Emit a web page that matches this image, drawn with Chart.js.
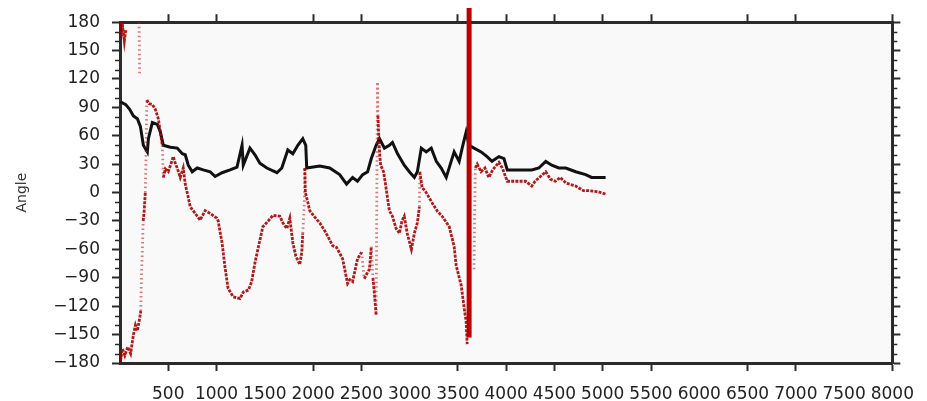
<!DOCTYPE html>
<html>
<head>
<meta charset="utf-8">
<script src="https://cdn.jsdelivr.net/npm/chart.js@4.4.1/dist/chart.umd.min.js"></script>
<style>
    body { margin: 0; background: #fff; }
    #wrap { width: 927px; height: 401px; }
</style>
</head>
<body>
<div id="wrap"><canvas id="angleChart"></canvas></div>
<script>
// Data (x = position, y = angle in degrees)
const blackPos = [5, 60, 100, 139, 180, 211, 242, 283, 294, 335, 387, 418, 449, 521, 593, 645, 676, 707, 748, 800,
    862, 934, 985, 1057, 1140, 1212, 1264, 1277, 1346, 1398, 1449, 1521, 1625, 1676, 1738, 1790, 1842, 1893, 1924, 1934,
    2069, 2172, 2275, 2347, 2409, 2460, 2514, 2565, 2603, 2653, 2687, 2739, 2790, 2822, 2875, 2944, 2997, 3049, 3080, 3121,
    3172, 3224, 3276, 3327, 3379, 3430, 3461, 3513, 3544, 3585, 3616, 3667, 3740, 3802, 3853, 3925, 3977, 4011, 4131, 4265,
    4338, 4410, 4472, 4545, 4617, 4720, 4823, 4885, 5030];
const blackAngle = [96, 93, 88, 81, 78, 70, 50, 43, 57, 74, 72, 64, 50, 48, 47, 41, 40, 29, 22, 26,
    24, 22, 17, 21, 24, 27, 50, 29, 47, 40, 31, 26, 21, 26, 45, 41, 50, 57, 50, 26,
    28, 26, 19, 9, 16, 12, 19, 22, 36, 50, 57, 47, 50, 53, 41, 29, 22, 16, 22, 47,
    43, 47, 33, 26, 16, 33, 43, 33, 47, 64, 50, 47, 43, 38, 33, 38, 36, 24, 24, 24,
    26, 33, 29, 26, 26, 22, 19, 16, 16];

// red trace, null angle = break (wrap at +/-180)
const redPos = [5, 15, 28, 45, 60, 61,
    198, 203, 204,
    5, 25, 50, 80, 110, 139, 160, 180, 205, 215, 222, 232, 240, 250, 262, 270, 278, 300, 335, 366,
    397, 418, 438, 449, 470, 500, 552, 575, 593, 624, 655, 676, 707, 727, 779, 830, 882, 934, 1003, 1017,
    1057, 1088, 1119, 1171, 1243, 1277, 1330, 1364, 1398, 1432, 1480, 1535, 1584, 1656, 1687, 1728, 1759, 1790, 1821, 1862,
    1883, 1893, 1910, 1914, 1920, 1945, 1965, 2010, 2069, 2130, 2203, 2244, 2306, 2357, 2380, 2409, 2460, 2502, 2530, 2560,
    2584, 2603, 2620, 2636, 2653, 2667, 2672, 2680, 2690, 2700, 2730, 2760, 2790, 2822, 2860, 2895, 2920, 2944, 2975, 3018,
    3049, 3080, 3101, 3105, 3130, 3160, 3200, 3240, 3290, 3337, 3410, 3461, 3482, 3534, 3565, 3585, 3596, 3597,
    3667, 3672, 3680, 3700, 3740, 3780, 3820, 3860, 3925, 3960, 4011, 4100, 4200, 4265, 4300, 4410, 4460, 4510, 4560, 4620,
    4720, 4800, 4855, 4950, 5030];
const redAngle = [180, 165, 175, 160, 172, null,
    180, 125, null,
    -178, -165, -172, -163, -170, -150, -140, -146, -132, -125, -90, -60, -30, -20, 0, 40, 98, 94, 93, 88,
    78, 64, 50, 16, 25, 22, 38, 30, 26, 16, 26, 9, -5, -15, -22, -29, -19, -22, -27, -30,
    -53, -79, -101, -110, -112, -105, -103, -94, -74, -58, -36, -30, -24, -25, -32, -38, -27, -53, -67, -76,
    -63, -43, -10, 26, 0, -10, -19, -25, -32, -42, -56, -58, -70, -96, -92, -94, -70, -63, -91, -85,
    -81, -57, -90, -108, -129, 117, 81, 60, 40, 29, 22, 2, -19, -25, -38, -43, -30, -25, -43, -60,
    -43, -32, -15, 22, 5, 2, -5, -12, -20, -25, -36, -57, -77, -98, -122, -136, -160, null,
    -81, -30, 26, 30, 22, 26, 16, 24, 32, 26, 12, 12, 12, 7, 12, 22, 14, 12, 16, 10,
    7, 2, 2, 1, -1.5];

// thick marker line
const markerPos = [3616, 3616];
const markerAngle = [195, -153];

const xTickMarks = [500, 1000, 2000, 2500, 3500, 4000, 4500, 5000, 5500, 6500, 7000, 8000];

const frameColor = '#2b2b2b';
const tickFont = { family: 'DejaVu Sans', size: 17 };

function toPoints(xs, ys) {
    return xs.map((x, i) => ({ x: x, y: ys[i] }));
}

function isSteep(ctx) {
    return Math.abs(ctx.p1.y - ctx.p0.y) > 25 && Math.abs(ctx.p1.x - ctx.p0.x) < 8;
}

// light grey plot background
const plotBackground = {
    id: 'plotBackground',
    beforeDraw(chart) {
        const a = chart.chartArea;
        const c = chart.ctx;
        c.save();
        c.fillStyle = '#f9f9f9';
        c.fillRect(a.left, a.top, a.right - a.left, a.bottom - a.top);
        c.restore();
    }
};

// small ticks every 10 degrees on both side axes
const minorTicks = {
    id: 'minorTicks',
    afterDraw(chart) {
        const c = chart.ctx;
        const y = chart.scales.y;
        const a = chart.chartArea;
        c.save();
        c.strokeStyle = frameColor;
        c.lineWidth = 1.5;
        for (let v = -180; v <= 180; v += 10) {
            if (v % 30 === 0) continue;
            const py = Math.round(y.getPixelForValue(v)) + 0.5;
            c.beginPath();
            c.moveTo(a.left - 5, py);
            c.lineTo(a.left, py);
            c.moveTo(a.right, py);
            c.lineTo(a.right + 5, py);
            c.stroke();
        }
        c.restore();
    }
};

function xTickColor(ctx) {
    return ctx.tick && xTickMarks.includes(ctx.tick.value) ? frameColor : 'rgba(0,0,0,0)';
}

function initAngleChart() {
    const ctx = document.getElementById('angleChart').getContext('2d');

    new Chart(ctx, {
        type: 'line',
        data: {
            datasets: [{
                data: toPoints(markerPos, markerAngle),
                borderColor: '#c00000',
                borderWidth: 5,
                pointRadius: 0,
                clip: false,
                order: 0
            }, {
                data: toPoints(redPos, redAngle),
                borderColor: 'rgba(170, 0, 0, 0.9)',
                borderWidth: 2.8,
                borderDash: [3, 1.2],
                pointRadius: 0,
                spanGaps: false,
                segment: {
                    borderDash: c => isSteep(c) ? [1.5, 3] : undefined,
                    borderColor: c => isSteep(c) ? 'rgba(195, 30, 30, 0.6)' : undefined
                },
                order: 1
            }, {
                data: toPoints(blackPos, blackAngle),
                borderColor: '#111',
                borderWidth: 3,
                pointRadius: 0,
                order: 2
            }]
        },
        options: {
            responsive: true,
            maintainAspectRatio: false,
            animation: false,
            layout: { padding: 0 },
            plugins: {
                legend: { display: false },
                tooltip: { enabled: false }
            },
            scales: {
                x: {
                    type: 'linear',
                    position: 'bottom',
                    min: 0,
                    max: 8000,
                    afterFit: s => { s.height = 38; },
                    border: { color: frameColor, width: 3 },
                    grid: {
                        drawOnChartArea: false,
                        tickLength: 8,
                        tickWidth: 2,
                        tickColor: xTickColor
                    },
                    ticks: {
                        stepSize: 500,
                        autoSkip: false,
                        maxRotation: 0,
                        color: '#222',
                        font: tickFont,
                        padding: 13,
                        callback: v => v === 0 ? '' : v
                    }
                },
                x2: {
                    type: 'linear',
                    position: 'top',
                    min: 0,
                    max: 8000,
                    afterFit: s => { s.height = 14; },
                    border: { color: frameColor, width: 3 },
                    grid: {
                        drawOnChartArea: false,
                        tickLength: 8,
                        tickWidth: 2,
                        tickColor: xTickColor
                    },
                    ticks: { display: false, stepSize: 500 }
                },
                y: {
                    type: 'linear',
                    position: 'left',
                    min: -180,
                    max: 180,
                    afterFit: s => { s.width = 120; },
                    border: { color: frameColor, width: 3 },
                    grid: {
                        drawOnChartArea: false,
                        tickLength: 8,
                        tickWidth: 2,
                        tickColor: frameColor
                    },
                    ticks: {
                        stepSize: 30,
                        autoSkip: false,
                        color: '#222',
                        font: tickFont,
                        padding: 12,
                        callback: v => String(v).replace('-', '\u2212')
                    },
                    title: {
                        display: true,
                        text: 'Angle',
                        color: '#333',
                        font: { family: 'DejaVu Sans', size: 14 },
                        padding: { top: 14, bottom: 0 }
                    }
                },
                y2: {
                    type: 'linear',
                    position: 'right',
                    min: -180,
                    max: 180,
                    afterFit: s => { s.width = 32; },
                    border: { color: frameColor, width: 3 },
                    grid: {
                        drawOnChartArea: false,
                        tickLength: 8,
                        tickWidth: 2,
                        tickColor: frameColor
                    },
                    ticks: { display: false, stepSize: 30 }
                }
            }
        },
        plugins: [plotBackground, minorTicks]
    });
}

document.addEventListener('DOMContentLoaded', function() {
    initAngleChart();
});
</script>
</body>
</html>
